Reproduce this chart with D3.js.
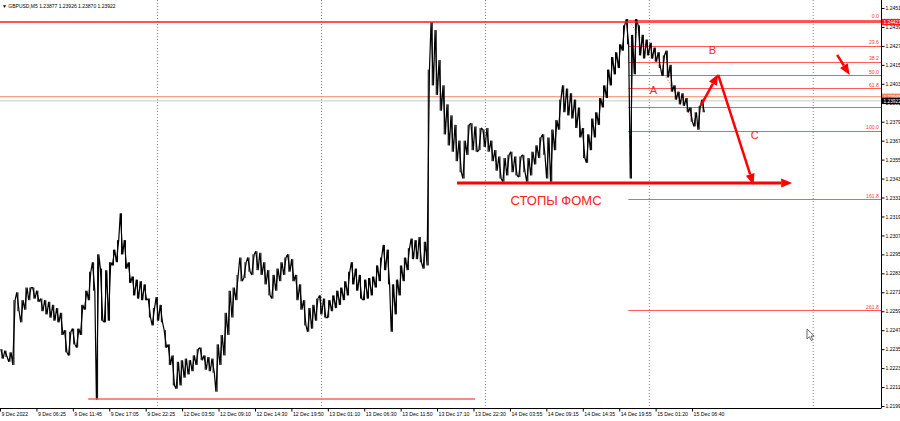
<!DOCTYPE html>
<html>
<head>
<meta charset="utf-8">
<script src="https://cdn.jsdelivr.net/npm/d3@7"></script>
<style>
  body { margin: 0; background: #fff; }
  svg { display: block; }
  text { font-family: "Liberation Sans", Arial, sans-serif; }
</style>
</head>
<body>
<svg id="chart" width="900" height="421"></svg>
<script>
// GBPUSD M5, one high/low pair per 7 bars (35 min)
const barHigh = [
  1.2235,1.2234,1.2233,1.2266,1.2271,1.2266,1.2274,1.2274,1.2274,1.2272,
  1.2267,1.2266,1.2265,1.2263,1.2261,1.2258,1.2247,1.2246,1.2248,1.2248,
  1.2263,1.2272,1.2284,1.2290,1.2295,1.2286,1.2285,1.2290,1.2298,1.2304,
  1.2321,1.2304,1.2290,1.2281,1.2279,1.2278,1.2276,1.2267,1.2261,1.2268,
  1.2263,1.2247,1.2238,1.2231,1.2227,1.2228,1.2229,1.2228,1.2231,1.2235,
  1.2236,1.2231,1.2230,1.2229,1.2238,1.2244,1.2258,1.2272,1.2274,1.2282,
  1.2293,1.2290,1.2293,1.2295,1.2297,1.2296,1.2290,1.2285,1.2282,1.2286,
  1.2290,1.2293,1.2295,1.2292,1.2282,1.2276,1.2266,1.2261,1.2263,1.2267,
  1.2269,1.2267,1.2266,1.2269,1.2272,1.2274,1.2278,1.2284,1.2290,1.2286,
  1.2282,1.2279,1.2280,1.2281,1.2288,1.2293,1.2301,1.2298,1.2276,1.2279,
  1.2288,1.2293,1.2299,1.2305,1.2304,1.2306,1.2303,1.2412,1.2442,1.2437,
  1.2418,1.2402,1.2390,1.2383,1.2377,1.2367,1.2367,1.2377,1.2378,1.2376,
  1.2375,1.2374,1.2375,1.2367,1.2361,1.2357,1.2356,1.2358,1.2360,1.2357,
  1.2357,1.2358,1.2356,1.2360,1.2364,1.2369,1.2371,1.2369,1.2374,1.2380,
  1.2393,1.2402,1.2400,1.2397,1.2393,1.2388,1.2375,1.2371,1.2381,1.2385,
  1.2394,1.2402,1.2412,1.2420,1.2423,1.2428,1.2440,1.2444,1.2434,1.2444,
  1.2440,1.2434,1.2431,1.2429,1.2426,1.2423,1.2421,1.2424,1.2415,1.2402,
  1.2398,1.2397,1.2394,1.2388,1.2385,1.2389,1.2393
]
const barLow = [
  1.2229,1.2230,1.2227,1.2225,1.2259,1.2252,1.2260,1.2266,1.2267,1.2265,
  1.2259,1.2257,1.2255,1.2253,1.2252,1.2244,1.2233,1.2231,1.2238,1.2236,
  1.2244,1.2260,1.2266,1.2272,1.2203,1.2253,1.2252,1.2253,1.2288,1.2290,
  1.2295,1.2286,1.2277,1.2269,1.2267,1.2266,1.2266,1.2255,1.2250,1.2253,
  1.2252,1.2236,1.2225,1.2212,1.2210,1.2212,1.2217,1.2219,1.2221,1.2225,
  1.2228,1.2222,1.2221,1.2220,1.2208,1.2225,1.2231,1.2244,1.2255,1.2266,
  1.2278,1.2280,1.2284,1.2282,1.2285,1.2282,1.2276,1.2269,1.2267,1.2272,
  1.2278,1.2282,1.2284,1.2278,1.2266,1.2260,1.2250,1.2246,1.2248,1.2253,
  1.2257,1.2255,1.2255,1.2259,1.2261,1.2263,1.2266,1.2269,1.2276,1.2272,
  1.2267,1.2266,1.2267,1.2269,1.2274,1.2278,1.2285,1.2276,1.2246,1.2257,
  1.2269,1.2278,1.2285,1.2292,1.2292,1.2290,1.2286,1.2288,1.2402,1.2396,
  1.2386,1.2371,1.2364,1.2360,1.2354,1.2347,1.2343,1.2358,1.2361,1.2360,
  1.2361,1.2363,1.2360,1.2354,1.2348,1.2343,1.2341,1.2345,1.2347,1.2345,
  1.2344,1.2347,1.2341,1.2345,1.2352,1.2356,1.2358,1.2343,1.2341,1.2361,
  1.2374,1.2385,1.2383,1.2381,1.2375,1.2369,1.2356,1.2353,1.2361,1.2369,
  1.2377,1.2388,1.2394,1.2402,1.2409,1.2413,1.2424,1.2428,1.2343,1.2409,
  1.2421,1.2419,1.2421,1.2419,1.2417,1.2413,1.2408,1.2407,1.2398,1.2393,
  1.2390,1.2389,1.2385,1.2379,1.2376,1.2374,1.2385
]
const barsPerStep = 7
const lastBar = [1.23877, 1.23926, 1.23870, 1.23922]   // O H L C
const askPrice = 1.23948

const dateLabels = [
  '9 Dec 2022','9 Dec 06:25','9 Dec 11:45','9 Dec 17:05','9 Dec 22:25',
  '12 Dec 03:50','12 Dec 09:10','12 Dec 14:30','12 Dec 19:50','13 Dec 01:10',
  '13 Dec 06:30','13 Dec 11:50','13 Dec 17:10','13 Dec 22:30','14 Dec 03:55',
  '14 Dec 09:15','14 Dec 14:35','14 Dec 19:55','15 Dec 01:20','15 Dec 06:40'
]
const labelEvery = 64          // M5 bars between time labels
const dayBreaks = [276, 564, 852, 1140, 1428]   // midnight bars (grid)
const priceTicks = [1.2199,1.2211,1.2223,1.2235,1.2247,1.2259,1.2271,1.2283,1.2295,1.2307,
  1.2319,1.2331,1.2343,1.2355,1.2367,1.2379,1.2391,1.2403,1.2415,1.2427,1.2439,1.2451]

// fibonacci retracement
const fibHigh = 1.24437, fibLow = 1.23734
const fibFromBar = 1104, fibToBar = 1231
const fibLevels = [0, 23.6, 38.2, 50, 61.8, 78.6, 100, 161.8, 261.8]
const fibLabels = ['0.0','23.6','38.2','50.0','61.8','','100.0','161.8','261.8']

// user drawn objects
const topLine = 1.24421
const bottomLine = {from: 155, to: 835, price: 1.22035}
const arrows = [
  {x1: 803, p1: 1.23402, x2: 1392, p2: 1.23402, w: 3},
  {x1: 1231, p1: 1.23890, x2: 1262, p2: 1.24092, w: 2.5},
  {x1: 1262, p1: 1.24086, x2: 1324, p2: 1.23390, w: 2.5},
  {x1: 1471, p1: 1.24213, x2: 1493, p2: 1.24086, w: 2.5}
]
const notes = [
  {text: 'A', bar: 1148, price: 1.23966, size: 11},
  {text: 'B', bar: 1252, price: 1.24219, size: 11},
  {text: 'C', bar: 1326, price: 1.23681, size: 11},
  {text: 'СТОПЫ ФОМС', bar: 977, price: 1.23263, size: 13}
]
const cursorAt = {bar: 1418, price: 1.22478}

const W = 881, H = 408
const svg = d3.select('#chart')
const x = d3.scaleLinear().domain([0, 1548]).range([0, W])
const y = d3.scaleLinear().domain([1.2199, 1.2451]).range([406, 8])
const fmt5 = d3.format('.5f')

svg.append('defs').append('clipPath').attr('id', 'plot')
  .append('rect').attr('width', W).attr('height', H)
const plot = svg.append('g').attr('clip-path', 'url(#plot)')

// day separators
plot.selectAll('.grid').data(dayBreaks).enter().append('line')
  .attr('x1', d => x(d) + 0.5).attr('x2', d => x(d) + 0.5)
  .attr('y1', 0).attr('y2', H)
  .attr('stroke', '#888').attr('stroke-dasharray', '1,2')

// full width lines
plot.append('line').attr('x1', 0).attr('x2', W)
  .attr('y1', y(lastBar[3])).attr('y2', y(lastBar[3]))
  .attr('stroke', '#c8c8c8')
plot.append('line').attr('x1', 0).attr('x2', W)
  .attr('y1', y(askPrice)).attr('y2', y(askPrice))
  .attr('stroke', '#f3835f')

// fib levels
const fibPrice = l => fibHigh - (fibHigh - fibLow) * l / 100
plot.selectAll('.fib').data(fibLevels).enter().append('line')
  .attr('x1', x(fibFromBar)).attr('x2', W)
  .attr('y1', d => Math.round(y(fibPrice(d))) + 0.5)
  .attr('y2', d => Math.round(y(fibPrice(d))) + 0.5)
  .attr('stroke', '#ff5b5b')
plot.selectAll('.fibtxt').data(fibLevels).enter().append('text')
  .attr('x', W - 2).attr('y', d => y(fibPrice(d)) - 1.5)
  .attr('text-anchor', 'end').attr('font-size', 5.2).attr('fill', '#ff3b3b')
  .text((d, i) => fibLabels[i])
plot.append('line')
  .attr('x1', x(fibFromBar)).attr('y1', y(fibHigh))
  .attr('x2', x(fibToBar)).attr('y2', y(fibLow))
  .attr('stroke', '#ff5b5b').attr('stroke-dasharray', '1,2')

// bars: a zigzag through each step's high and low, like the dense M5 bars
const mid = i => (barHigh[i] + barLow[i]) / 2
const pts = []
barHigh.forEach((h, i) => {
  const cx = x(i * barsPerStep + barsPerStep / 2)
  const up = i < barHigh.length - 1 ? mid(i + 1) > mid(i) : false
  const first = up ? barLow[i] : h, second = up ? h : barLow[i]
  pts.push([cx - 1.2, y(first)], [cx + 1.2, y(second)])
})
plot.append('path')
  .attr('d', d3.line()(pts))
  .attr('fill', 'none').attr('stroke', '#000').attr('stroke-width', 1.2)
  .attr('stroke-linejoin', 'miter').attr('stroke-miterlimit', 2)
plot.selectAll('.bar').data(barHigh).enter().append('line')
  .attr('x1', (d, i) => x(i * barsPerStep + barsPerStep / 2))
  .attr('x2', (d, i) => x(i * barsPerStep + barsPerStep / 2))
  .attr('y1', d => y(d)).attr('y2', (d, i) => y(barLow[i]))
  .attr('stroke', '#000').attr('stroke-width', 1)

// horizontal user lines
plot.append('line').attr('x1', 0).attr('x2', W)
  .attr('y1', y(topLine)).attr('y2', y(topLine))
  .attr('stroke', '#ff1a1a').attr('stroke-width', 1.6)
plot.append('line')
  .attr('x1', x(bottomLine.from)).attr('x2', x(bottomLine.to))
  .attr('y1', y(bottomLine.price)).attr('y2', y(bottomLine.price))
  .attr('stroke', '#f26464').attr('stroke-width', 1.5)

// arrows
arrows.forEach(a => {
  const x1 = x(a.x1), y1 = y(a.p1), x2 = x(a.x2), y2 = y(a.p2)
  const ang = Math.atan2(y2 - y1, x2 - x1)
  const len = 11, half = 4.5
  const bx = x2 - len * Math.cos(ang), by = y2 - len * Math.sin(ang)
  plot.append('line').attr('x1', x1).attr('y1', y1).attr('x2', bx).attr('y2', by)
    .attr('stroke', '#ff0000').attr('stroke-width', a.w)
  plot.append('path')
    .attr('d', `M${x2},${y2}L${bx + half * Math.sin(ang)},${by - half * Math.cos(ang)}` +
      `L${bx - half * Math.sin(ang)},${by + half * Math.cos(ang)}Z`)
    .attr('fill', '#ff0000')
})

plot.selectAll('.note').data(notes).enter().append('text')
  .attr('x', d => x(d.bar)).attr('y', d => y(d.price))
  .attr('text-anchor', 'middle').attr('font-size', d => d.size)
  .attr('fill', '#ff2020').text(d => d.text)

// mouse pointer
plot.append('path')
  .attr('transform', `translate(${x(cursorAt.bar)},${y(cursorAt.price)})`)
  .attr('d', 'M0,0L0,10L2.4,7.8L4.2,11.6L5.8,10.9L4.1,7.2L7.2,7.2Z')
  .attr('fill', '#fff').attr('stroke', '#444').attr('stroke-width', 0.8)

// axes
const yAxis = svg.append('g').attr('transform', `translate(${W + 0.5},0)`)
  .call(d3.axisRight(y).tickValues(priceTicks).tickSize(3).tickSizeOuter(0)
    .tickFormat(d3.format('.4f')))
yAxis.select('.domain').attr('d', `M0,0V${H}`)
yAxis.selectAll('text').attr('font-size', 5).attr('x', 4).attr('fill', '#000')
  .style('font-family', '"Liberation Sans", Arial, sans-serif')

const xAxis = svg.append('g').attr('transform', `translate(0,${H + 0.5})`)
  .call(d3.axisBottom(x).tickValues(dateLabels.map((d, i) => i * labelEvery))
    .tickSize(3).tickSizeOuter(0).tickFormat((d, i) => dateLabels[i]))
xAxis.select('.domain').attr('d', `M0,0H${W + 0.5}`)
xAxis.selectAll('text').attr('font-size', 5.2).attr('text-anchor', 'start')
  .attr('x', 1).attr('y', 4).attr('fill', '#000')
  .style('font-family', '"Liberation Sans", Arial, sans-serif')

// price tags on the scale
const tags = [
  {p: topLine, bg: '#ff1a1a', fg: '#fff'},
  {p: askPrice, bg: '#f3835f', fg: '#fff'},
  {p: lastBar[3], bg: '#000', fg: '#fff'}
]
const tag = svg.selectAll('.tag').data(tags).enter().append('g')
  .attr('transform', d => `translate(${W + 1},${y(d.p)})`)
tag.append('rect').attr('x', 0).attr('y', -3.2).attr('width', 20).attr('height', 6.4)
  .attr('fill', d => d.bg)
tag.append('text').attr('x', 1.5).attr('y', 1.8).attr('font-size', 4.8)
  .attr('fill', d => d.fg).text(d => fmt5(d.p))

// header
svg.append('text').attr('x', 2).attr('y', 8).attr('font-size', 5)
  .text('▼ GBPUSD,M5  ' + lastBar.map(fmt5).join(' '))
</script>
</body>
</html>
